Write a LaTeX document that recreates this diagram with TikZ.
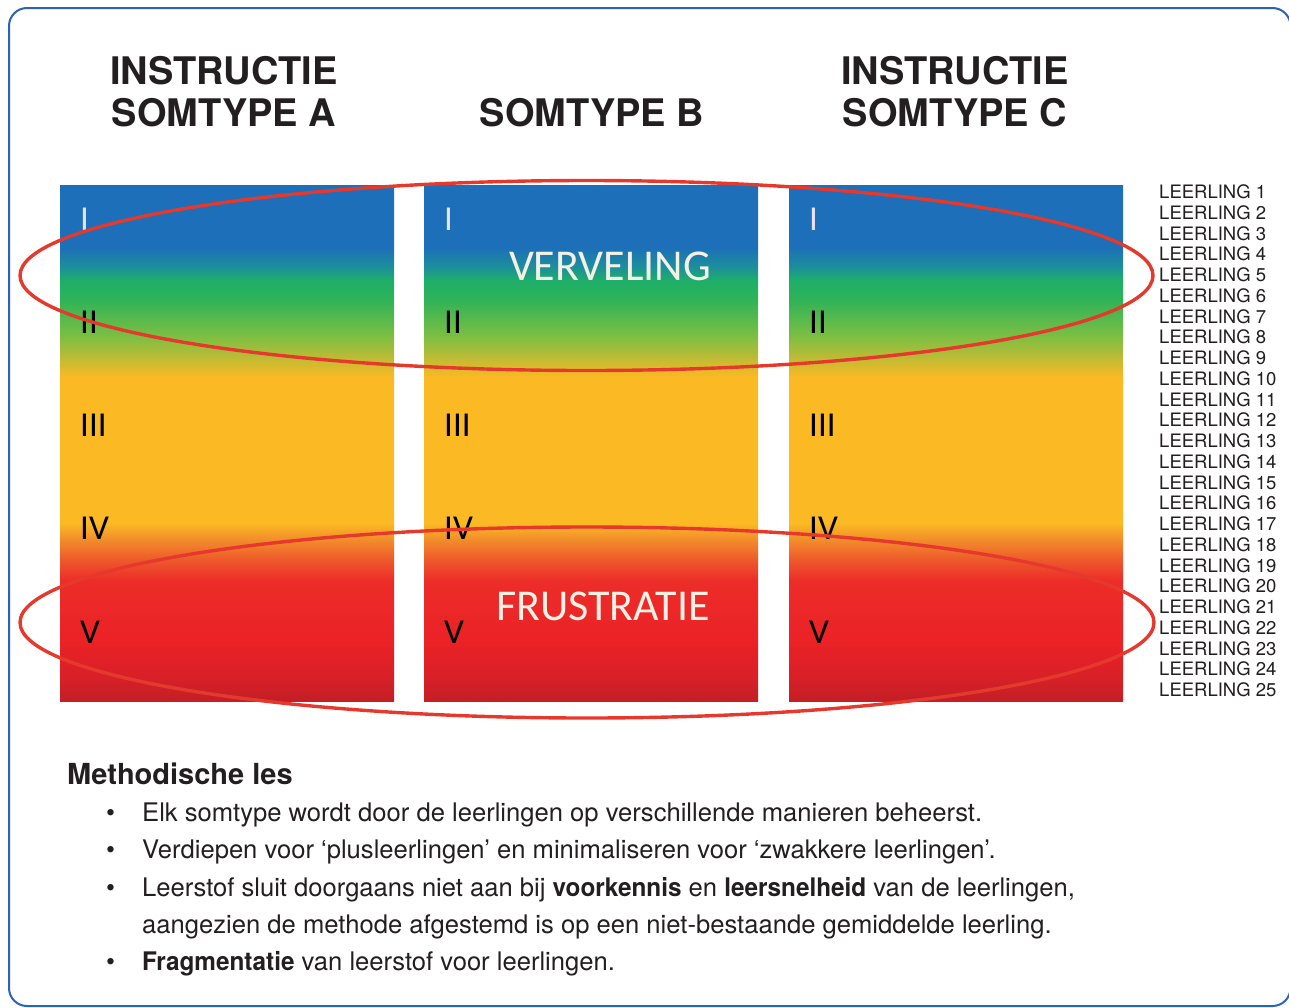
\documentclass[tikz,border=0pt]{standalone}
\usepackage{fontspec}
\setmainfont{TeX Gyre Heros}
\newfontfamily\carlito{Carlito}
\newcommand\vet[1]{\scalebox{0.95}[1]{\textbf{#1}}}

\definecolor{kaderblauw}{HTML}{2B64B6}
\definecolor{ringrood}{HTML}{E6392D}
\definecolor{lichtpaars}{HTML}{E8E2F2}
\definecolor{roomwit}{HTML}{F4F0E4}
\definecolor{tekstzwart}{HTML}{231F20}
\definecolor{donkerrood}{HTML}{C41E26}
\definecolor{rood1}{HTML}{D92027}
\definecolor{rood2}{HTML}{EB2226}
\definecolor{rood3}{HTML}{EC2D29}
\definecolor{roodoranje}{HTML}{EE5A2B}
\definecolor{oranje}{HTML}{F28B2B}
\definecolor{geel}{HTML}{FBB924}
\definecolor{geelgroen}{HTML}{BDBB35}
\definecolor{lichtgroen}{HTML}{7DBF42}
\definecolor{groen}{HTML}{2FB357}
\definecolor{zeegroen}{HTML}{1DAE6B}
\definecolor{blauwgroen}{HTML}{1C8E9C}
\definecolor{blauw}{HTML}{1C6FB8}

\pgfdeclareverticalshading{niveaus}{100bp}{%
  color(0bp)=(donkerrood); color(25bp)=(donkerrood);
  color(27.5bp)=(rood1); color(30.9bp)=(rood2);
  color(36.7bp)=(rood3); color(38.7bp)=(roodoranje);
  color(40.6bp)=(oranje); color(42.2bp)=(geel);
  color(56.4bp)=(geel); color(58.3bp)=(geelgroen);
  color(60.3bp)=(lichtgroen); color(63.9bp)=(groen);
  color(65.8bp)=(zeegroen); color(67.1bp)=(blauwgroen);
  color(69bp)=(blauw); color(75bp)=(blauw);
  color(100bp)=(blauw)}

\begin{document}
\begin{tikzpicture}[x=1pt, y=-1pt,
    titel/.style={font=\fontsize{38}{42}\selectfont\bfseries, text=tekstzwart, align=center, anchor=base, inner sep=0},
    niveau/.style={font=\carlito\fontsize{35}{35}\selectfont, anchor=base west, inner sep=0},
    gevoel/.style={font=\carlito\fontsize{44}{44}\selectfont, text=roomwit, anchor=base, inner sep=0},
    leerling/.style={font=\fontsize{18.5}{18.5}\selectfont, text=tekstzwart, anchor=base west, inner sep=0},
    tekst/.style={font=\fontsize{25.6}{25.6}\selectfont, text=tekstzwart, anchor=base west, inner sep=0},
    ring/.style={draw=ringrood, line width=3.4}]
    \useasboundingbox (0,0) rectangle (1289,1007);
    \fill[white] (0,0) rectangle (1289,1007);
    \draw[kaderblauw, line width=2, rounded corners=18] (9,8) rectangle (1290.5,1006);

    \node[titel] (titel-a) at (224,126) {INSTRUCTIE\\SOMTYPE A};
    \node[titel] (titel-b) at (592,126) {SOMTYPE B};
    \node[titel] (titel-c) at (955,126) {INSTRUCTIE\\SOMTYPE C};

    \foreach \kol/\x in {a/60, b/424, c/789} {
        \shade[shading=niveaus] (\x,185) rectangle ++(334,516);
        \node[niveau, text=lichtpaars] (\kol-1) at (\x+20,230) {I};
        \foreach \r [count=\i from 2] in {II, III, IV, V}
            \node[niveau] (\kol-\i) at (\x+20,{230+103.3*(\i-1)}) {\r};
    }
    \node[gevoel] (verveling) at (610,280) {VERVELING};
    \node[gevoel] (frustratie) at (603,620) {FRUSTRATIE};

    \foreach \i in {1,...,25}
        \node[leerling] (leerling-\i) at (1159,{198.5+20.76*(\i-1)}) {LEERLING \i};

    \draw[ring] (586.5,275.5) ellipse [x radius=566.5, y radius=95];
    \draw[ring] (587,622.5) ellipse [x radius=567, y radius=95.5];

    \node[anchor=base west, inner sep=0, font=\fontsize{29}{29}\selectfont\bfseries, text=tekstzwart] (kop) at (67,784) {Methodische les};
    \foreach \i/\y in {1/821, 2/858.5, 3/896, 5/970.5}
        \node[tekst] (stip-\i) at (106,\y) {\textbullet};
    \node[tekst] (regel-1) at (142,821) {Elk somtype wordt door de leerlingen op verschillende manieren beheerst.};
    \node[tekst] (regel-2) at (142,858.5) {Verdiepen voor ‘plusleerlingen’ en minimaliseren voor ‘zwakkere leerlingen’.};
    \node[tekst] (regel-3) at (142,896) {Leerstof sluit doorgaans niet aan bij \vet{voorkennis} en \vet{leersnelheid} van de leerlingen,};
    \node[tekst] (regel-4) at (142,933) {aangezien de methode afgestemd is op een niet-bestaande gemiddelde leerling.};
    \node[tekst] (regel-5) at (142,970.5) {\vet{Fragmentatie} van leerstof voor leerlingen.};
\end{tikzpicture}
\end{document}
